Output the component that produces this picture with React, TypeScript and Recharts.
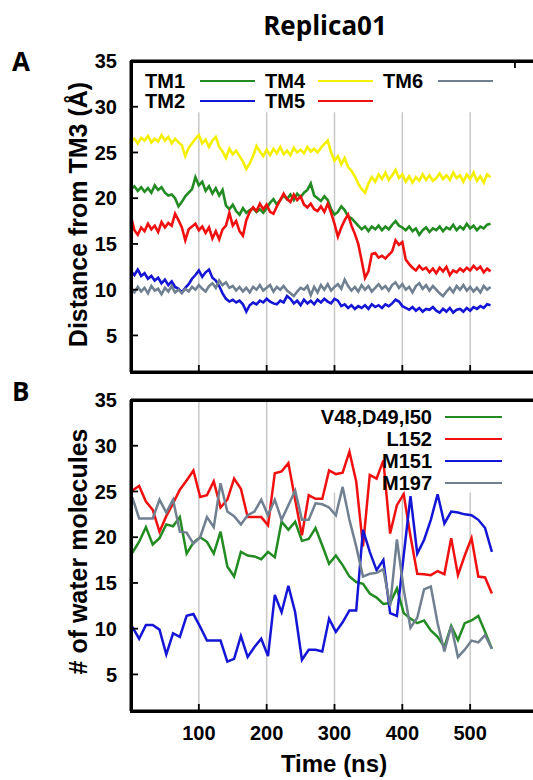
import { LineChart, Line, XAxis, YAxis, CartesianGrid, ReferenceArea } from "recharts";

// Panel A: distance from TM3 (Å), sampled every 5 ns from 0 to 530 ns
const TM1 = [
  21.0, 21.3, 20.8, 21.2, 20.7, 21.1, 20.6, 21.4, 20.9, 21.2,
  20.6, 20.3, 20.4, 20.0, 19.1, 19.6, 20.2, 20.6, 21.0, 22.3,
  21.4, 21.8, 20.8, 21.3, 20.5, 21.1, 20.3, 20.9, 19.2, 18.8,
  19.3, 18.6, 18.2, 18.9, 18.4, 18.7, 18.9, 18.5, 18.8, 18.4,
  18.9, 19.5, 19.9, 19.3, 19.8, 20.3, 19.9, 20.4, 19.8, 20.5,
  20.1, 20.6, 20.9, 21.6, 20.3, 20.0, 19.7, 20.2, 19.8, 18.8,
  18.2, 18.5, 19.1, 18.7, 18.0, 17.8, 17.4, 17.0, 16.6, 16.9,
  16.4, 16.9, 16.6, 17.0, 16.5, 16.9, 16.6, 17.1, 17.5, 17.0,
  16.8, 16.5, 16.9, 16.4, 16.7, 16.0, 16.5, 16.8, 16.3, 16.7,
  16.5, 16.9, 16.4, 16.8, 16.6, 17.1, 16.5, 16.9, 16.6, 17.2,
  16.7, 17.0, 16.5, 16.9, 16.7, 17.1, 17.2,
];
const TM2 = [
  12.0, 11.6, 12.2, 11.5, 11.8, 11.2, 11.5, 11.0, 11.3, 10.7,
  11.1, 10.5, 10.9, 10.3, 10.1, 9.7, 10.2, 10.6, 11.2, 11.6,
  12.1, 11.4, 11.9, 12.2, 11.3, 11.0, 10.4, 9.6, 9.0, 8.7,
  8.9, 8.6, 8.8, 8.4, 7.6, 8.3, 8.6, 8.4, 8.8, 8.6,
  9.0, 8.7, 8.5, 8.4, 8.8, 8.6, 9.3, 9.0, 8.5, 8.8,
  8.3, 8.9, 8.5, 8.8, 8.4, 8.9, 8.6, 9.0, 8.7, 8.5,
  9.0, 8.8, 8.2, 8.4, 8.0, 8.3, 7.9, 8.2, 8.0, 8.3,
  7.9, 8.4, 8.1, 8.3, 8.0, 8.4, 8.2, 8.5, 8.9, 8.7,
  8.2, 8.0, 7.8, 8.1, 7.7, 8.0, 7.6, 7.9, 7.8, 8.1,
  7.7, 7.5, 7.9, 7.6, 8.0, 7.5, 7.8, 7.9, 7.6, 8.0,
  7.7, 8.1, 7.9, 8.2, 8.0, 8.4, 8.3,
];
const TM4 = [
  26.2, 26.5, 26.0, 26.6, 26.3, 26.8, 26.1, 26.5, 26.2, 26.9,
  26.3, 26.7, 26.0, 26.5, 26.1, 25.8, 24.6, 25.5, 26.0, 26.5,
  26.9, 26.0, 26.4, 25.6, 26.3, 26.7, 25.6, 25.1, 24.4, 25.4,
  24.8, 25.2, 24.6, 24.0, 23.2, 23.8, 24.6, 25.7, 25.1, 24.6,
  25.3, 24.7, 25.4, 24.9, 25.6, 24.8, 25.2, 24.7, 25.5, 25.0,
  25.3, 24.9, 25.6, 25.1, 25.4, 25.0, 25.5, 25.9, 26.3, 25.0,
  24.1, 24.6, 23.7, 24.4, 23.4, 23.0, 22.4, 21.6, 21.0, 20.6,
  21.6, 22.3, 21.8, 22.6, 22.1, 22.8, 22.0, 22.5, 23.1, 22.2,
  22.6, 21.8, 22.4, 21.7, 22.3, 21.9, 22.6, 22.0, 22.5, 21.9,
  22.2, 22.7, 22.1, 22.5, 22.0, 22.8, 22.2, 22.5, 21.8, 22.6,
  22.1, 22.8, 21.9, 22.4, 21.7, 22.6, 22.3,
];
const TM5 = [
  18.0, 16.5, 16.0, 16.8, 16.4, 17.2, 16.6, 17.0, 16.3, 17.4,
  16.8, 17.3, 17.0, 18.3, 17.6, 16.8, 15.4, 16.6, 16.9, 17.2,
  16.5, 16.9, 16.2, 16.8, 15.6, 16.4, 15.5, 16.6, 17.0, 18.4,
  17.0, 17.5, 16.4, 15.9, 17.6, 18.5, 19.0, 18.6, 19.4, 18.8,
  19.3, 18.5, 18.3, 19.1, 19.8, 20.5, 19.9, 19.6, 20.4, 19.8,
  20.2, 19.3, 19.0, 19.4, 18.8, 18.6, 19.1, 18.5, 19.4, 18.4,
  17.2, 15.8, 16.8, 17.6, 18.2, 17.0, 16.1, 15.0, 13.2, 11.3,
  12.0, 13.9, 14.0, 13.5, 13.7, 13.4, 13.8, 14.2, 15.4, 14.9,
  15.2, 13.3, 12.8, 12.4, 12.1, 12.6, 12.2, 12.4, 11.9, 12.3,
  11.8, 12.4, 12.0, 12.5, 11.6, 12.1, 11.9, 12.3, 12.0, 12.4,
  12.1, 12.6, 12.2, 12.5, 11.9, 12.3, 12.0,
];
const TM6 = [
  10.0, 9.7, 10.3, 9.8, 10.2, 9.6, 10.4, 9.9, 10.1, 9.5,
  10.2, 9.8, 10.4, 9.7, 10.0, 9.6, 10.1, 9.8, 10.3, 10.0,
  10.5, 10.1, 9.8, 10.4, 10.7, 10.2, 11.0, 10.5, 10.8, 10.2,
  10.4, 9.9, 10.3, 9.8, 10.2, 9.7, 10.3, 10.0, 10.5, 9.9,
  10.2, 10.5, 9.8, 10.3, 10.0, 10.4, 9.9, 9.6, 9.3, 9.8,
  10.2, 10.0, 10.4, 9.4, 10.3, 9.7, 10.5, 10.0, 10.6, 9.9,
  10.3, 10.6, 10.1, 11.1, 10.4, 9.9, 10.3, 9.8, 10.5, 10.0,
  10.4, 9.8, 10.2, 10.6, 10.1, 10.4, 9.9, 10.5, 10.8, 10.2,
  10.6, 10.0, 10.3, 9.7, 10.4, 10.7, 10.1, 10.5, 9.9, 10.4,
  10.0, 9.6, 9.3, 9.8, 10.2, 9.7, 10.4, 10.0, 10.5, 9.9,
  10.3, 9.8, 10.2, 9.7, 10.4, 10.0, 10.3,
];

// Panel B: number of water molecules, sampled every 10 ns starting at 2 ns
const V48_D49_I50 = [
  18.3, 19.5, 21.1, 19.2, 19.9, 21.4, 21.2, 22.2, 18.2, 19.4,
  20.0, 19.5, 18.2, 20.6, 16.8, 15.7, 18.4, 18.0, 17.9, 17.6,
  18.4, 17.8, 21.7, 20.8, 21.7, 19.6, 19.8, 21.0, 19.1, 17.1,
  18.0, 16.95, 15.7, 15.1, 14.9, 13.85, 13.4, 12.7, 12.8, 14.4,
  11.7, 11.1, 10.6, 10.9, 9.8, 9.1, 8.0, 10.3, 8.75, 10.6,
  10.9, 11.4, 9.65, 7.8,
];
const L152 = [
  25.1, 25.6, 23.9, 23.0, 20.6, 22.3, 23.7, 25.2, 26.2, 27.3,
  24.4, 24.6, 26.1, 23.25, 24.1, 26.4, 25.3, 22.2, 22.2, 22.2,
  21.3, 27.0, 27.2, 28.1, 24.1, 20.2, 24.6, 24.2, 24.2, 27.3,
  26.9, 27.05, 29.35, 26.1, 19.0, 26.8, 26.4, 28.4, 20.4, 23.5,
  24.7, 20.1, 16.0, 15.96, 15.85, 16.3, 15.96, 19.9, 15.85, 18.0,
  19.9, 15.7, 15.6, 13.85,
];
const M151 = [
  10.2, 8.9, 10.4, 10.4, 9.9, 7.2, 9.5, 9.1, 11.4, 11.6,
  10.2, 8.7, 8.7, 8.7, 6.4, 6.7, 9.2, 6.9, 8.0, 8.9,
  7.0, 13.7, 11.8, 14.7, 11.8, 6.6, 7.7, 7.7, 7.5, 11.1,
  9.65, 10.7, 12.0, 12.0, 20.8, 18.4, 16.4, 17.5, 11.7, 11.4,
  18.0, 24.5, 18.2, 19.7, 21.9, 24.7, 21.5, 22.8, 22.7, 22.5,
  22.4, 21.9, 21.0, 18.4,
];
const M197 = [
  24.35, 22.05, 22.05, 22.05, 24.1, 22.7, 24.1, 20.6, 20.5, 19.3,
  20.0, 22.2, 21.1, 25.9, 22.8, 22.3, 21.4, 22.4, 22.8, 24.1,
  22.4, 24.1, 21.9, 23.5, 25.1, 21.9, 21.9, 23.7, 23.6, 23.25,
  22.4, 25.5, 21.9, 19.0, 15.7, 16.0, 16.1, 16.5, 12.5, 19.75,
  14.3, 10.1, 11.2, 14.3, 14.6, 10.6, 7.5, 10.3, 6.9, 7.7,
  8.7, 8.5, 9.3, 7.8,
];

const TIME_A = TM1.map((_, i) => i * 5);
const TIME_B = V48_D49_I50.map((_, i) => 2 + i * 10);

const X_TICKS = [100, 200, 300, 400, 500];
const Y_TICKS = [5, 10, 15, 20, 25, 30, 35];

const GREEN = "#228b22";
const RED = "#f01010";
const BLUE = "#1515d5";
const YELLOW = "#f5f000";
const GRAY = "#708090";
const INK = "#000000";

const SERIES_A = [
  { key: "tm1", name: "TM1", color: GREEN, values: TM1 },
  { key: "tm2", name: "TM2", color: BLUE, values: TM2 },
  { key: "tm4", name: "TM4", color: YELLOW, values: TM4 },
  { key: "tm5", name: "TM5", color: RED, values: TM5 },
  { key: "tm6", name: "TM6", color: GRAY, values: TM6 },
];
const SERIES_B = [
  { key: "v48", name: "V48,D49,I50", color: GREEN, values: V48_D49_I50 },
  { key: "l152", name: "L152", color: RED, values: L152 },
  { key: "m151", name: "M151", color: BLUE, values: M151 },
  { key: "m197", name: "M197", color: GRAY, values: M197 },
];

const dataA = TIME_A.map((t, i) => {
  const row: Record<string, number> = { t };
  SERIES_A.forEach((s) => (row[s.key] = s.values[i]));
  return row;
});
const dataB = TIME_B.map((t, i) => {
  const row: Record<string, number> = { t };
  SERIES_B.forEach((s) => (row[s.key] = s.values[i]));
  return row;
});

const SANS = "'Liberation Sans', Arial, sans-serif";
const tickFont = { fill: "#000", fontSize: 20, fontWeight: 700, fontFamily: SANS };
const blank = () => "";
const axisLine = { stroke: INK, strokeWidth: 3 };
const tickLine = { stroke: INK, strokeWidth: 1.8 };

function Text({ x, y, size, children, font = SANS, anchor = "left", rotate = false }: any) {
  const style: any = {
    position: "absolute",
    whiteSpace: "nowrap",
    fontFamily: font,
    fontWeight: 700,
    fontSize: size,
    lineHeight: `${size}px`,
    color: "#000",
    top: y - size / 2,
  };
  if (rotate) {
    style.left = x;
    style.transform = "translate(-50%, 0) rotate(-90deg)";
    style.transformOrigin = "50% 50%";
  } else if (anchor === "center") {
    style.left = x;
    style.transform = "translateX(-50%)";
  } else if (anchor === "right") {
    style.right = 533 - x;
  } else {
    style.left = x;
  }
  return <div style={style}>{children}</div>;
}

function Swatch({ x1, x2, y, color }: any) {
  return (
    <div
      style={{ position: "absolute", left: x1, top: y - 1.25, width: x2 - x1, height: 2.5, background: color }}
    />
  );
}

// heavy plot border drawn over each chart's plotting area
function Border({ top }: { top: number }) {
  return (
    <div
      style={{
        position: "absolute",
        left: 129.5,
        top,
        width: 410,
        height: 314,
        boxSizing: "border-box",
        border: `3px solid ${INK}`,
        pointerEvents: "none",
      }}
    />
  );
}

// legend placement
const LEGEND_A = [
  { name: "TM1", color: GREEN, tx: 145, lx: 200, y: 81 },
  { name: "TM2", color: BLUE, tx: 145, lx: 200, y: 101 },
  { name: "TM4", color: YELLOW, tx: 265, lx: 318, y: 81 },
  { name: "TM5", color: RED, tx: 265, lx: 318, y: 101 },
  { name: "TM6", color: GRAY, tx: 383, lx: 438, y: 81 },
];
const LEGEND_B_ROWS = [417, 439, 461, 483];

export default function App() {
  return (
    <div
      style={{
        position: "fixed",
        left: 0,
        top: 0,
        width: 533,
        height: 780,
        overflow: "hidden",
        background: "#fff",
      }}
    >
      <div style={{ position: "absolute", left: 0, top: 0 }}>
        <LineChart width={560} height={380} data={dataA} margin={{ top: 60, right: 21, bottom: 7, left: 71 }}>
          <CartesianGrid horizontal={false} stroke="#c8c8c8" strokeWidth={1.5} />
          <ReferenceArea x1={0} x2={600} y1={29.4} y2={35} fill="#fff" fillOpacity={1} stroke="none" />
          <XAxis
            dataKey="t"
            type="number"
            domain={[0, 600]}
            ticks={X_TICKS}
            height={1}
            stroke={INK}
            tickSize={-7}
            tickFormatter={blank}
            axisLine={axisLine}
            tickLine={tickLine}
          />
          <XAxis
            xAxisId="top"
            orientation="top"
            type="number"
            domain={[0, 600]}
            ticks={X_TICKS}
            height={1}
            stroke={INK}
            tickSize={-7}
            tickFormatter={blank}
            axisLine={axisLine}
            tickLine={tickLine}
          />
          <YAxis
            type="number"
            domain={[1, 35]}
            ticks={Y_TICKS}
            width={60}
            stroke={INK}
            tickSize={-7}
            tickMargin={21}
            tick={tickFont}
            axisLine={axisLine}
            tickLine={tickLine}
          />
          <YAxis
            yAxisId="right"
            orientation="right"
            type="number"
            domain={[1, 35]}
            ticks={Y_TICKS}
            width={1}
            stroke={INK}
            tickSize={-7}
            tickFormatter={blank}
            axisLine={axisLine}
            tickLine={tickLine}
          />
          {SERIES_A.map((s) => (
            <Line
              key={s.key}
              type="linear"
              dataKey={s.key}
              stroke={s.color}
              strokeWidth={2.6}
              dot={false}
              isAnimationActive={false}
            />
          ))}
        </LineChart>
      </div>
      <div style={{ position: "absolute", left: 0, top: 380 }}>
        <LineChart width={560} height={400} data={dataB} margin={{ top: 19, right: 21, bottom: 39, left: 71 }}>
          <CartesianGrid horizontal={false} stroke="#c8c8c8" strokeWidth={1.5} />
          <ReferenceArea x1={268} x2={600} y1={24.9} y2={35} fill="#fff" fillOpacity={1} stroke="none" />
          <XAxis
            dataKey="t"
            type="number"
            domain={[0, 600]}
            ticks={X_TICKS}
            height={30}
            stroke={INK}
            tickSize={-7}
            tickMargin={22}
            tick={tickFont}
            axisLine={axisLine}
            tickLine={tickLine}
          />
          <XAxis
            xAxisId="top"
            orientation="top"
            type="number"
            domain={[0, 600]}
            ticks={X_TICKS}
            height={1}
            stroke={INK}
            tickSize={-7}
            tickFormatter={blank}
            axisLine={axisLine}
            tickLine={tickLine}
          />
          <YAxis
            type="number"
            domain={[1, 35]}
            ticks={Y_TICKS}
            width={60}
            stroke={INK}
            tickSize={-7}
            tickMargin={21}
            tick={tickFont}
            axisLine={axisLine}
            tickLine={tickLine}
          />
          <YAxis
            yAxisId="right"
            orientation="right"
            type="number"
            domain={[1, 35]}
            ticks={Y_TICKS}
            width={1}
            stroke={INK}
            tickSize={-7}
            tickFormatter={blank}
            axisLine={axisLine}
            tickLine={tickLine}
          />
          {SERIES_B.map((s) => (
            <Line
              key={s.key}
              type="linear"
              dataKey={s.key}
              stroke={s.color}
              strokeWidth={2.5}
              dot={false}
              isAnimationActive={false}
            />
          ))}
        </LineChart>
      </div>

      <Border top={59.5} />
      <Border top={398.5} />

      <Text x={325} y={25} size={26} font="'Open Sans', sans-serif" anchor="center">
        Replica01
      </Text>
      <Text x={12} y={61} size={26} font="'Open Sans', sans-serif">
        A
      </Text>
      <Text x={12} y={391} size={26} font="'Open Sans', sans-serif">
        B
      </Text>
      <Text x={78} y={214} size={25} rotate>
        Distance from TM3 (Å)
      </Text>
      <Text x={78} y={551} size={25} rotate>
        # of water molecules
      </Text>
      <Text x={334} y={764} size={24} anchor="center">
        Time (ns)
      </Text>

      {LEGEND_A.map((l) => (
        <div key={l.name}>
          <Text x={l.tx} y={l.y} size={20}>
            {l.name}
          </Text>
          <Swatch x1={l.lx} x2={l.lx + 55} y={l.y} color={l.color} />
        </div>
      ))}
      {SERIES_B.map((s, i) => (
        <div key={s.key}>
          <Text x={432} y={LEGEND_B_ROWS[i]} size={20} anchor="right">
            {s.name}
          </Text>
          <Swatch x1={445} x2={502} y={LEGEND_B_ROWS[i]} color={s.color} />
        </div>
      ))}
    </div>
  );
}
